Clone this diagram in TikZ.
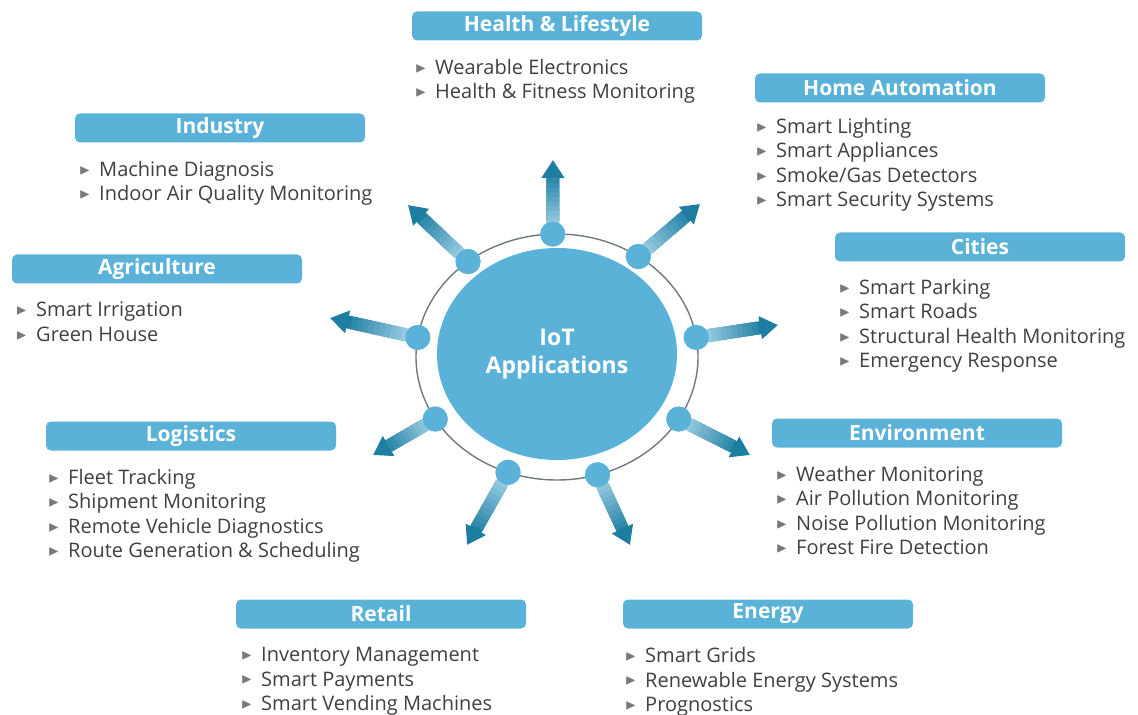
\documentclass[tikz,border=0pt]{standalone}
\usepackage{amssymb}
\usepackage{graphicx}
\usepackage{xcolor}
\usepackage{fontspec}
\setmainfont{Open Sans}
\usepackage{tikz}
\usetikzlibrary{arrows.meta,positioning,calc,shapes.geometric}
\definecolor{iotblue}{HTML}{5AB2D8}
\definecolor{arrdark}{HTML}{1E7EA2}
\definecolor{arrlight}{HTML}{A8D7EB}
\definecolor{itemgray}{HTML}{404040}
\definecolor{ringgray}{HTML}{6E7A80}
\newcommand{\itm}{{\color{itemgray!70}\raisebox{0.2ex}{\scalebox{0.72}{$\blacktriangleright$}}}\hspace{0.45em}}

\begin{document}
\begin{tikzpicture}[x=0.5pt, y=-0.5pt,
  font=\fontsize{10}{12.25}\selectfont,
  head/.style={fill=iotblue, rounded corners=2.5pt, minimum width=145pt,
               minimum height=14.5pt, inner sep=0pt, text=white,
               font=\fontsize{10.5}{12}\selectfont\bfseries},
  items/.style={align=left, inner sep=0pt, text=itemgray},
  dot/.style={circle, fill=iotblue, minimum size=12.5pt, inner sep=0pt},
  shaft/.style={line width=6.5pt, line cap=butt},
  a/.style={shaft, draw=arrdark, -{Triangle[width=11pt,length=9pt]}}]
\useasboundingbox (0,0) rectangle (1138,715);
\node[ellipse, draw=ringgray, line width=0.7pt, minimum width=141pt,
      minimum height=123pt, inner sep=0pt, outer sep=0pt] (ring) at (557,357) {};
\node[ellipse, fill=iotblue, minimum width=120pt, minimum height=106pt,
      inner sep=0pt, align=center, text=white,
      font=\fontsize{11.5}{14}\selectfont\bfseries] (hub) at (557,354) {IoT\\Applications};

\node[head] (health) at (557,26) {Health \& Lifestyle};
\node[items, below right=9pt and 1.5pt of health.south west] (healthL)
  {\itm Wearable Electronics\\ \itm Health \& Fitness Monitoring};
\node[head] (home) at (900,88) {Home Automation};
\node[items, below right=7.5pt and 0.5pt of home.south west] (homeL)
  {\itm Smart Lighting\\ \itm Smart Appliances\\ \itm Smoke/Gas Detectors\\
   \itm Smart Security Systems};
\node[head] (ind) at (220,128) {Industry};
\node[items, below right=9pt and 2pt of ind.south west] (indL)
  {\itm Machine Diagnosis\\ \itm Indoor Air Quality Monitoring};
\node[head] (agri) at (157,269) {Agriculture};
\node[items, below right=9pt and 2pt of agri.south west] (agriL)
  {\itm Smart Irrigation\\ \itm Green House};
\node[head] (city) at (980,247) {Cities};
\node[items, below right=8.5pt and 2pt of city.south west] (cityL)
  {\itm Smart Parking\\ \itm Smart Roads\\ \itm Structural Health Monitoring\\
   \itm Emergency Response};
\node[head] (logi) at (191,436) {Logistics};
\node[items, below right=9pt and 1pt of logi.south west] (logiL)
  {\itm Fleet Tracking\\ \itm Shipment Monitoring\\ \itm Remote Vehicle Diagnostics\\
   \itm Route Generation \& Scheduling};
\node[head] (env) at (917,433) {Environment};
\node[items, below right=9pt and 2pt of env.south west] (envL)
  {\itm Weather Monitoring\\ \itm Air Pollution Monitoring\\ \itm Noise Pollution Monitoring\\
   \itm Forest Fire Detection};
\node[head] (retail) at (381,614) {Retail};
\node[items, below right=9pt and 2.5pt of retail.south west] (retailL)
  {\itm Inventory Management\\ \itm Smart Payments\\ \itm Smart Vending Machines};
\node[head] (energy) at (768,614) {Energy};
\node[items, below right=9pt and 1pt of energy.south west] (energyL)
  {\itm Smart Grids\\ \itm Renewable Energy Systems\\ \itm Prognostics};

\coordinate (tHealth) at (553,160);
\coordinate (tHome) at (700,204);
\coordinate (tCity) at (778,325);
\coordinate (tEnv) at (750,455);
\coordinate (tEnergy) at (630,545);
\coordinate (tRetail) at (467,545);
\coordinate (tLogi) at (373,455);
\coordinate (tAgri) at (330,318);
\coordinate (tInd) at (408,205);

\foreach \n/\ang in {Health/92, Home/51, City/8, Env/-27, Energy/-71,
                     Retail/-113, Logi/-153, Agri/172, Ind/133}{
  \node[dot] (d\n) at (ring.\ang) {};
  \draw[a] (d\n) -- (t\n);
  \foreach \i in {0,...,11}{
    \pgfmathtruncatemacro{\pc}{\i*8}
    \draw[shaft, draw=arrdark!\pc!arrlight]
      ($(d\n)!\i/16!(t\n)$) -- ($(d\n)!\i/16+1/16+0.005!(t\n)$);
  }
  \node[dot] at (d\n) {};
}
\end{tikzpicture}
\end{document}
